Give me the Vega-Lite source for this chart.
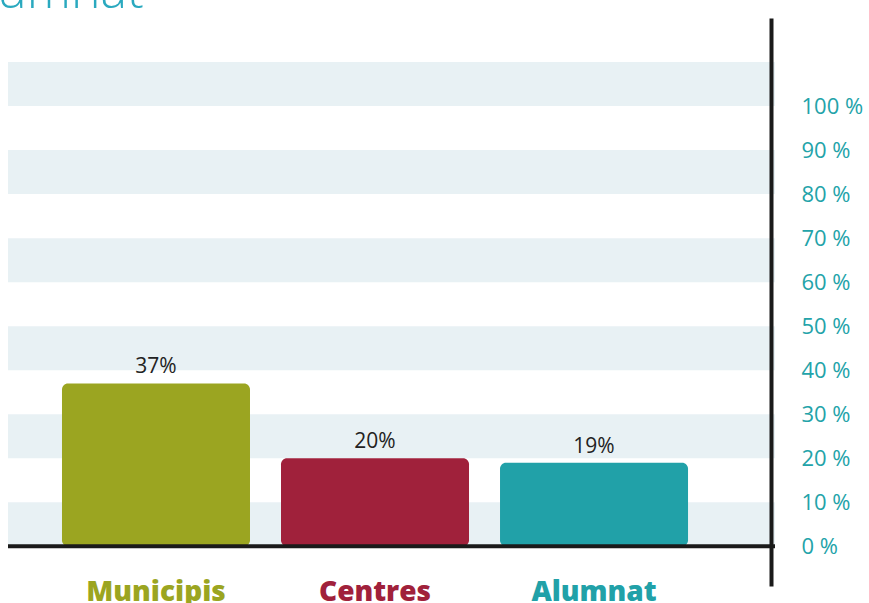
{
  "$schema": "https://vega.github.io/schema/vega-lite/v6.json",
  "width": 767,
  "height": 568,
  "autosize": "none",
  "padding": {"left": 8, "top": 18, "right": 94, "bottom": 17},
  "background": "white",
  "config": {"view": {"stroke": null}, "font": "Open Sans"},
  "title": {
    "text": "Alumnat",
    "anchor": "start",
    "frame": "group",
    "fontSize": 50,
    "fontWeight": 300,
    "color": "#2aa9bf",
    "font": "Open Sans",
    "dx": -52,
    "dy": 40,
    "offset": 0,
    "baseline": "alphabetic"
  },
  "datasets": {
    "bands": [
      {"lo": 0, "hi": 10},
      {"lo": 20, "hi": 30},
      {"lo": 40, "hi": 50},
      {"lo": 60, "hi": 70},
      {"lo": 80, "hi": 90},
      {"lo": 100, "hi": 110}
    ],
    "bars": [
      {"categoria": "Municipis", "valor": 37, "etiqueta": "37%"},
      {"categoria": "Centres", "valor": 20, "etiqueta": "20%"},
      {"categoria": "Alumnat", "valor": 19, "etiqueta": "19%"}
    ]
  },
  "layer": [
    {
      "data": {"name": "bands"},
      "mark": {"type": "rect", "color": "#e8f1f4"},
      "encoding": {
        "y": {
          "field": "lo",
          "type": "quantitative",
          "scale": {"domain": [-9, 120], "nice": false, "zero": false},
          "axis": {
            "orient": "right",
            "values": [0, 10, 20, 30, 40, 50, 60, 70, 80, 90, 100],
            "labelExpr": "datum.value + ' %'",
            "title": null,
            "grid": false,
            "ticks": false,
            "domain": true,
            "domainColor": "#1a1a1a",
            "domainWidth": 4,
            "offset": -4,
            "zindex": 1,
            "labelPadding": 30,
            "labelFontSize": 22,
            "labelColor": "#23a3a9",
            "labelFont": "Open Sans"
          }
        },
        "y2": {"field": "hi"}
      }
    },
    {
      "data": {"name": "bars"},
      "mark": {"type": "bar", "cornerRadius": 6},
      "encoding": {
        "x": {
          "field": "categoria",
          "type": "nominal",
          "sort": null,
          "scale": {"paddingInner": 0.1416, "paddingOuter": 0.3218, "align": 0.383},
          "axis": {
            "title": null,
            "domain": false,
            "ticks": false,
            "labelAngle": 0,
            "labelFontSize": 28,
            "labelFontWeight": 800,
            "labelFont": "Open Sans",
            "labelPadding": -8,
            "labelColor": {"expr": "datum.value == 'Municipis' ? '#9ba521' : datum.value == 'Centres' ? '#a0213b' : '#21a1a8'"}
          }
        },
        "y": {"field": "valor", "type": "quantitative"},
        "y2": {"datum": 0},
        "color": {
          "field": "categoria",
          "type": "nominal",
          "scale": {"domain": ["Municipis", "Centres", "Alumnat"], "range": ["#9ba521", "#a0213b", "#21a1a8"]},
          "legend": null
        }
      }
    },
    {
      "data": {"name": "bars"},
      "mark": {"type": "text", "baseline": "bottom", "dy": -6, "fontSize": 21, "color": "#222222", "font": "Open Sans"},
      "encoding": {
        "x": {"field": "categoria", "type": "nominal", "sort": null},
        "y": {"field": "valor", "type": "quantitative"},
        "text": {"field": "etiqueta"}
      }
    },
    {
      "data": {"values": [{}]},
      "mark": {"type": "rule", "color": "#1a1a1a", "strokeWidth": 4},
      "encoding": {
        "y": {"datum": 0, "type": "quantitative"}
      }
    }
  ]
}
